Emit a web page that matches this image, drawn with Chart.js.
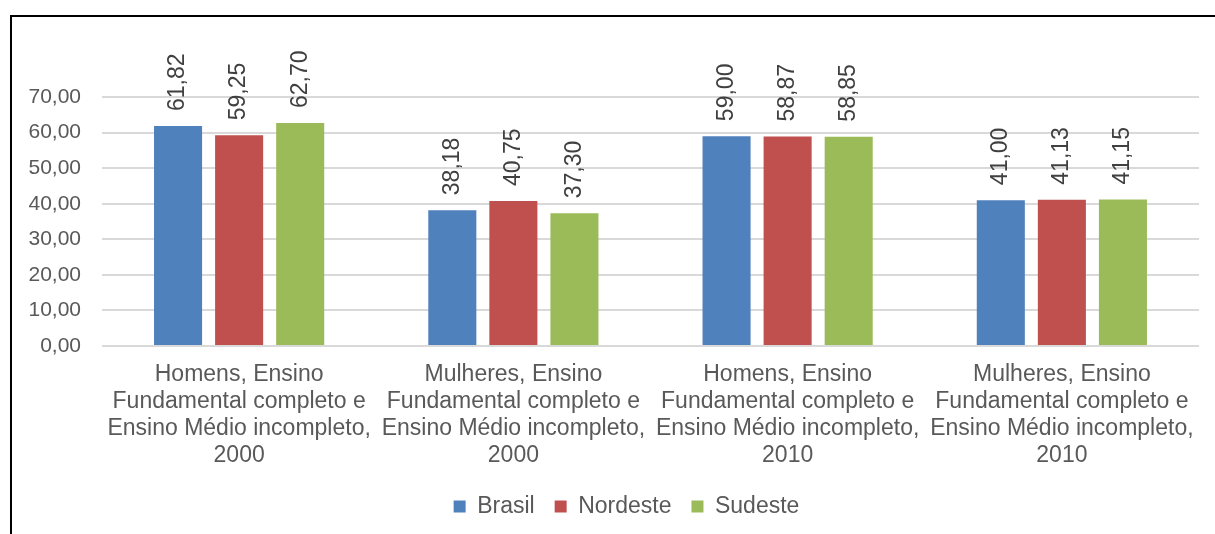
<!DOCTYPE html>
<html>
<head>
<meta charset="utf-8">
<script src="https://cdn.jsdelivr.net/npm/chart.js@4/dist/chart.umd.min.js"></script>
<style>
  html, body { margin: 0; padding: 0; background: #fff; }
  body { width: 1215px; height: 534px; position: relative; overflow: hidden; }
  #frame {
    position: absolute; left: 10px; top: 15px;
    width: 1203px; height: 517px;
    border-left: 2px solid #000; border-top: 2px solid #000;
  }
</style>
</head>
<body>
<div id="frame"><canvas id="chart"></canvas></div>
<script>
const categories = [
  ['Homens, Ensino', 'Fundamental completo e', 'Ensino Médio incompleto,', '2000'],
  ['Mulheres, Ensino', 'Fundamental completo e', 'Ensino Médio incompleto,', '2000'],
  ['Homens, Ensino', 'Fundamental completo e', 'Ensino Médio incompleto,', '2010'],
  ['Mulheres, Ensino', 'Fundamental completo e', 'Ensino Médio incompleto,', '2010']
];
const brasil = [61.82, 38.18, 59.00, 41.00];
const nordeste = [59.25, 40.75, 58.87, 41.13];
const sudeste = [62.70, 37.30, 58.85, 41.15];
const yTicks = [0, 10, 20, 30, 40, 50, 60, 70];

const fmt = v => v.toFixed(2).replace('.', ',');
const FONT = "'Liberation Sans', Arial, sans-serif";

// value labels drawn vertically above each bar
const barLabels = {
  id: 'barLabels',
  afterDatasetsDraw(chart) {
    const ctx = chart.ctx;
    ctx.save();
    ctx.font = '23px ' + FONT;
    ctx.fillStyle = '#404040';
    ctx.textAlign = 'left';
    ctx.textBaseline = 'middle';
    chart.data.datasets.forEach((ds, i) => {
      chart.getDatasetMeta(i).data.forEach((bar, j) => {
        ctx.save();
        ctx.translate(bar.x, bar.y - 15);
        ctx.rotate(-Math.PI / 2);
        ctx.fillText(fmt(ds.data[j]), 0, 0);
        ctx.restore();
      });
    });
    ctx.restore();
  }
};

// nudge the legend a bit to the right of the canvas centre
const legendShift = {
  id: 'legendShift',
  afterLayout(chart) {
    chart.legend.left += 21;
    chart.legend.right += 21;
  }
};

const ds = (label, data, color) => ({
  label, data, backgroundColor: color, borderWidth: 0,
  categoryPercentage: 0.668, barPercentage: 0.787
});

new Chart(document.getElementById('chart'), {
  type: 'bar',
  data: {
    labels: categories,
    datasets: [
      ds('Brasil', brasil, '#4F81BD'),
      ds('Nordeste', nordeste, '#C0504D'),
      ds('Sudeste', sudeste, '#9BBB59')
    ]
  },
  options: {
    responsive: true,
    maintainAspectRatio: false,
    animation: false,
    layout: { padding: { top: 80, right: 16, bottom: 6, left: 0 } },
    plugins: {
      tooltip: { enabled: false },
      legend: {
        position: 'bottom',
        labels: {
          boxWidth: 12, boxHeight: 12, padding: 20,
          color: '#595959',
          font: { family: FONT, size: 23 }
        }
      }
    },
    scales: {
      x: {
        grid: { display: false, drawTicks: false },
        border: { display: false },
        ticks: {
          color: '#595959', padding: 15, maxRotation: 0, autoSkip: false,
          font: { family: FONT, size: 23, lineHeight: 1.17 }
        },
        afterFit: s => { s.height = 129; }
      },
      y: {
        min: 0, max: 70,
        afterBuildTicks: s => { s.ticks = yTicks.map(v => ({ value: v })); },
        grid: { color: '#D9D9D9', lineWidth: 2, drawTicks: false },
        border: { display: false },
        ticks: {
          color: '#595959', padding: 21,
          font: { family: FONT, size: 21 },
          callback: v => fmt(v)
        },
        afterFit: s => { s.width = 90; }
      }
    }
  },
  plugins: [barLabels, legendShift]
});
</script>
</body>
</html>
